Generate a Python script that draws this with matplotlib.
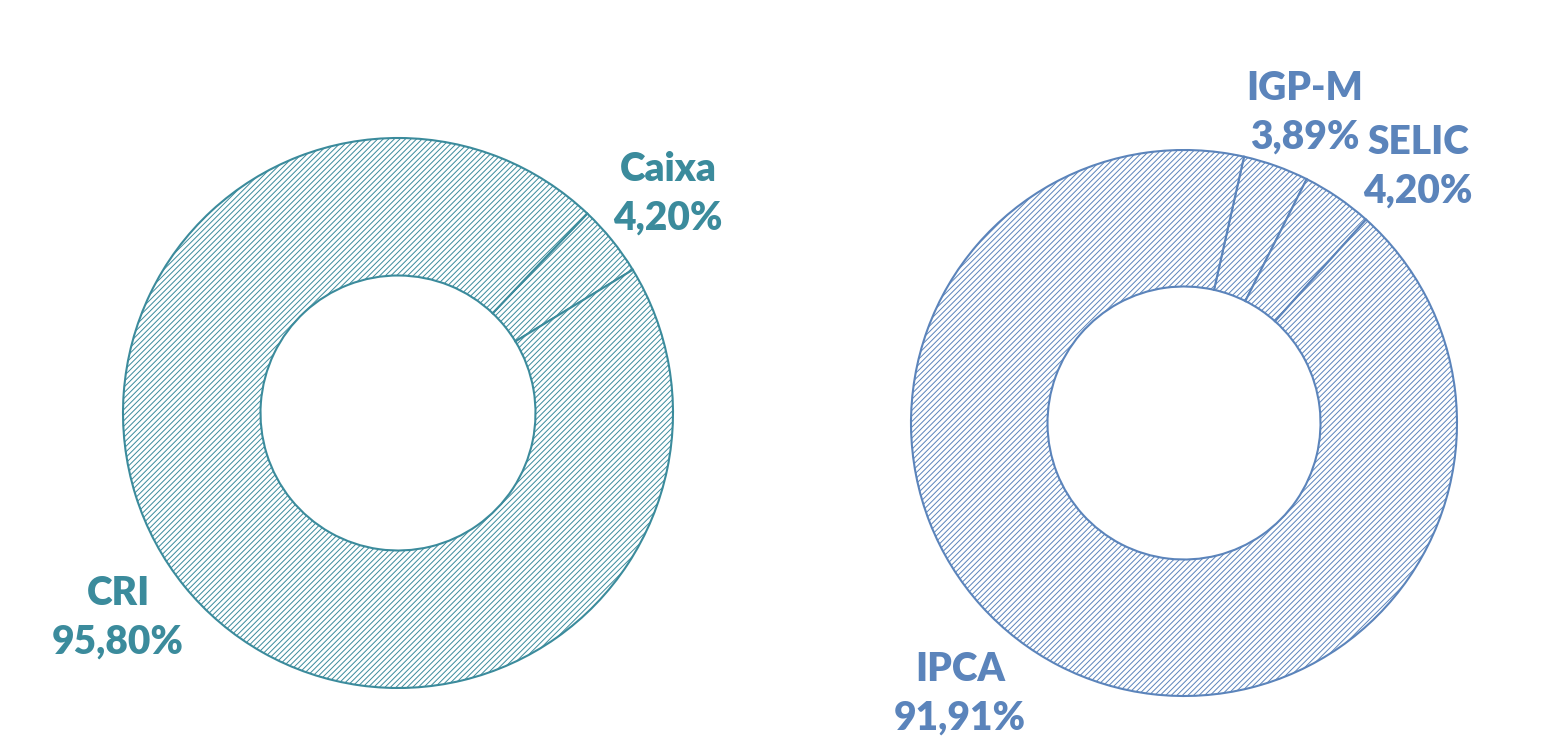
import matplotlib
matplotlib.use("Agg")
import matplotlib.pyplot as plt

# Data
left_labels = ["Caixa", "CRI"]
left_values = [4.20, 95.80]
right_labels = ["IGP-M", "SELIC", "IPCA"]
right_values = [3.89, 4.20, 91.91]

TEAL = "#3B8B9C"
BLUE = "#5B84BB"

plt.rcParams['hatch.linewidth'] = 0.7

W, H = 1543, 746
fig = plt.figure(figsize=(W / 100, H / 100), dpi=100)
ax = fig.add_axes([0, 0, 1, 1])

HATCH = '//////'

def fmt(v):
    return f"{v:.2f}".replace(".", ",") + "%"

def donut(values, color, center, radius, startangle):
    plt.rcParams['hatch.color'] = color
    wedges, _ = ax.pie(values, center=center, radius=radius, startangle=startangle,
                       counterclock=False, frame=True,
                       wedgeprops=dict(width=radius * 0.5, facecolor='white',
                                       edgecolor=color, linewidth=1.5, hatch=HATCH))
    for w in wedges:
        w.set_edgecolor(color)
    return wedges

donut(left_values, TEAL, (398, H - 413), 275, 46.5)
donut(right_values, BLUE, (1184, H - 423), 273, 77.3)
ax.set_xlim(0, W)
ax.set_ylim(0, H)
ax.set_aspect('equal')
ax.axis('off')

font = dict(family=["Lato", "DejaVu Sans"], fontweight='heavy', fontsize=28,
            ha='center', va='center', linespacing=1.4)

left_pos = [(668, 194), (118, 618)]
for lab, v, (x, y) in zip(left_labels, left_values, left_pos):
    ax.text(x, H - y, f"{lab}\n{fmt(v)}", color=TEAL, **font)

right_pos = [(1305, 113), (1418, 167), (960, 694)]
for lab, v, (x, y) in zip(right_labels, right_values, right_pos):
    ax.text(x, H - y, f"{lab}\n{fmt(v)}", color=BLUE, **font)

fig.savefig("out.png", dpi=100, facecolor='white')
